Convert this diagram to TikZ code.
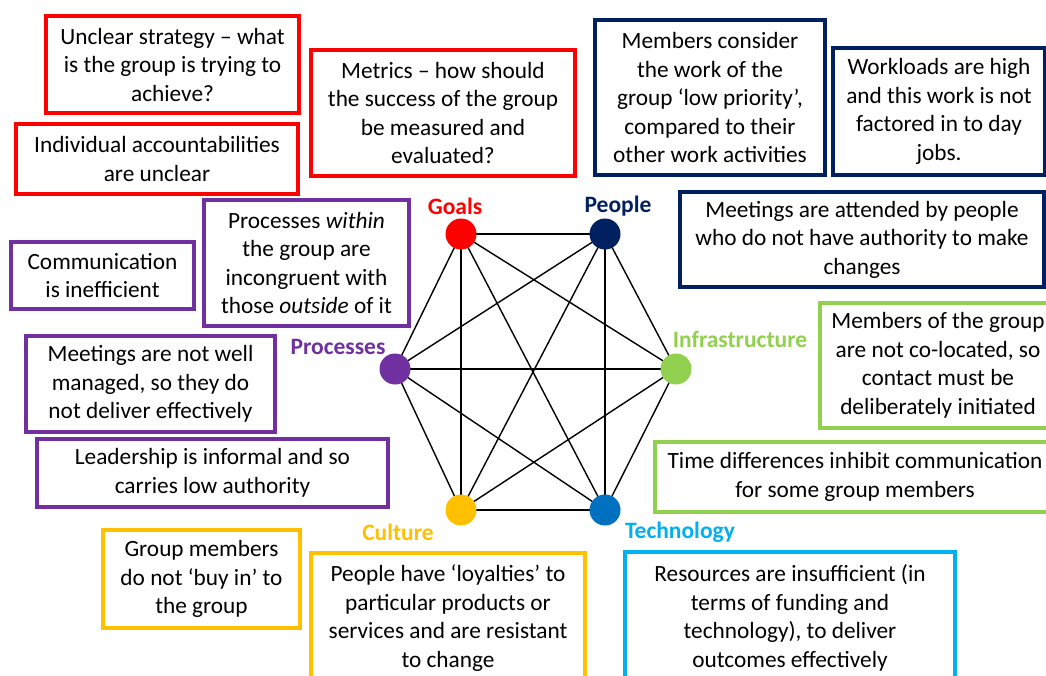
\documentclass[tikz,border=0pt]{standalone}
\usepackage{fontspec}
\setmainfont{Carlito}
\definecolor{cRed}{HTML}{FF0000}
\definecolor{cNavy}{HTML}{002060}
\definecolor{cPurple}{HTML}{7030A0}
\definecolor{cGreen}{HTML}{92D050}
\definecolor{cGold}{HTML}{FFC000}
\definecolor{cBlue}{HTML}{0070C0}
\definecolor{cSky}{HTML}{00B0F0}
\begin{document}
\begin{tikzpicture}[x=1pt,y=-1pt,
  box/.style={draw=#1, line width=3.6pt, fill=white, rectangle, align=center, inner sep=0pt,
    font=\fontsize{23.3}{28.5}\selectfont, text=black},
  dot/.style={circle, fill=#1, minimum size=31pt, inner sep=0pt},
  lab/.style={font=\fontsize{23.5}{26}\selectfont\bfseries, text=#1, inner sep=0pt},
  edge/.style={line width=1.4pt, black}]
\clip (0,0) rectangle (1046,676);
\fill[white] (0,0) rectangle (1046,676);

% Goals boxes
\node[box=cRed, minimum width=253, minimum height=97] (r1) at (172.5,64.5)
  {Unclear strategy -- what\\is the group is trying to\\achieve?};
\node[box=cRed, minimum width=282, minimum height=70] (r2) at (157,159)
  {Individual accountabilities\\are unclear};
\node[box=cRed, minimum width=264, minimum height=126] (r3) at (443,113)
  {Metrics -- how should\\the success of the group\\be measured and\\evaluated?};

% People boxes
\node[box=cNavy, minimum width=230, minimum height=155] (n1) at (710,97.5)
  {Members consider\\the work of the\\group ‘low priority’,\\compared to their\\other work activities};
\node[box=cNavy, minimum width=212, minimum height=127] (n2) at (939,111.5)
  {Workloads are high\\and this work is not\\factored in to day\\jobs.};
\node[box=cNavy, minimum width=364, minimum height=95] (n3) at (862,239.5)
  {Meetings are attended by people\\who do not have authority to make\\changes};

% Processes boxes
\node[box=cPurple, minimum width=183, minimum height=67] (p1) at (102.5,275.5)
  {Communication\\is inefficient};
\node[box=cPurple, minimum width=205, minimum height=126] (p2) at (306.5,263)
  {Processes \emph{within}\\the group are\\incongruent with\\those \emph{outside} of it};
\node[box=cPurple, minimum width=249, minimum height=96] (p3) at (150.5,384)
  {Meetings are not well\\managed, so they do\\not deliver effectively};
\node[box=cPurple, minimum width=351, minimum height=68] (p4) at (212.5,473)
  {Leadership is informal and so\\carries low authority};

% Infrastructure boxes
\node[box=cGreen, minimum width=236, minimum height=125] (g1) at (938,365.5)
  {Members of the group\\are not co-located, so\\contact must be\\deliberately initiated};
\node[box=cGreen, minimum width=400, minimum height=70] (g2) at (855,477)
  {Time differences inhibit communication\\for some group members};

% Culture boxes
\node[box=cGold, minimum width=197, minimum height=98] (c1) at (201.5,579)
  {Group members\\do not ‘buy in’ to\\the group};
\node[box=cGold, minimum width=274, minimum height=130] (c2) at (448,618)
  {People have ‘loyalties’ to\\particular products or\\services and are resistant\\to change};

% Technology box
\node[box=cSky, minimum width=330, minimum height=132] (t1) at (790,618)
  {Resources are insufficient (in\\terms of funding and\\technology), to deliver\\outcomes effectively};

% Hexagon nodes
\coordinate (G) at (461,234);
\coordinate (P) at (605,234);
\coordinate (Pr) at (395,369);
\coordinate (I) at (676,369);
\coordinate (C) at (461,510);
\coordinate (T) at (605,510);

\foreach \a/\b in {G/P,G/Pr,G/I,G/C,G/T,P/Pr,P/I,P/C,P/T,Pr/I,Pr/C,Pr/T,I/C,I/T,C/T}
  \draw[edge] (\a) -- (\b);

\node[dot=cRed] (dG) at (G) {};
\node[dot=cNavy] (dP) at (P) {};
\node[dot=cPurple] (dPr) at (Pr) {};
\node[dot=cGreen] (dI) at (I) {};
\node[dot=cGold] (dC) at (C) {};
\node[dot=cBlue] (dT) at (T) {};

\node[lab=cRed] (lG) at (455,206) {Goals};
\node[lab=cNavy] (lP) at (618,206) {People};
\node[lab=cPurple] (lPr) at (338,347) {Processes};
\node[lab=cGreen] (lI) at (740,339) {Infrastructure};
\node[lab=cGold] (lC) at (398,532) {Culture};
\node[lab=cSky] (lT) at (680,532) {Technology};
\end{tikzpicture}
\end{document}
